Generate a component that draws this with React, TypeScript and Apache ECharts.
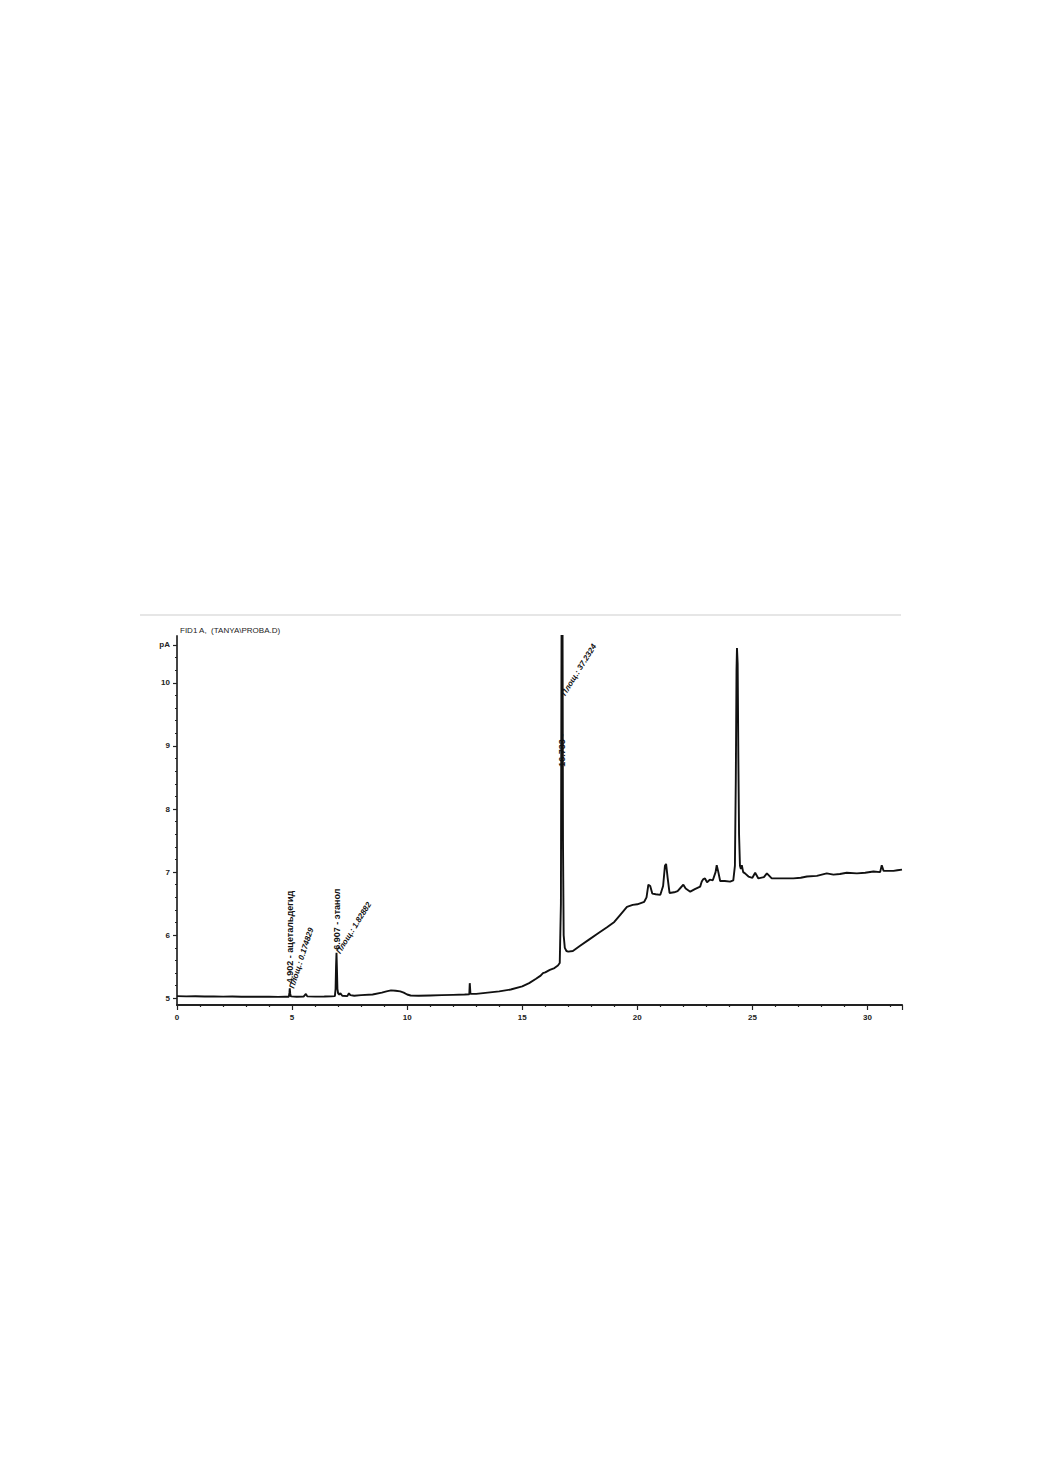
import React, { useEffect, useRef } from "react";
import * as echarts from "echarts";

// retention time, min
const times = [
  0, 0.4, 0.8, 1.2, 1.6, 2.0, 2.4, 2.8, 3.2, 3.6, 4.0, 4.4, 4.7, 4.86, 4.885, 4.9, 4.92, 4.95,
  5.2, 5.5, 5.6, 5.66, 6.0, 6.4, 6.7, 6.86, 6.89, 6.91, 6.93, 6.95, 6.97, 7.0, 7.05, 7.1, 7.18,
  7.4, 7.47, 7.53, 7.7, 8.0, 8.5, 8.9, 9.1, 9.3, 9.5, 9.7, 9.85, 10.0, 10.15, 10.5, 11.0, 11.5,
  12.0, 12.5, 12.7, 12.72, 12.75, 13.0, 13.5, 14.0, 14.5, 15.0, 15.3, 15.6, 15.8, 15.9, 16.0,
  16.2, 16.4, 16.55, 16.63, 16.68, 16.71, 16.75, 16.77, 16.8, 16.85, 16.92, 17.0, 17.2, 17.5,
  17.9, 18.3, 18.7, 19.0, 19.25, 19.55, 19.8, 20.0, 20.3, 20.4, 20.48, 20.56, 20.65, 20.8, 21.0,
  21.12, 21.2, 21.25, 21.32, 21.4, 21.6, 21.75, 21.9, 22.0, 22.1, 22.3, 22.5, 22.73, 22.8, 22.87,
  22.94, 23.03, 23.15, 23.28, 23.4, 23.45, 23.52, 23.6, 23.8, 24.03, 24.17, 24.24, 24.28, 24.31,
  24.33, 24.36, 24.39, 24.42, 24.46, 24.5, 24.54, 24.6, 24.68, 24.83, 25.0, 25.12, 25.26, 25.5,
  25.63, 25.84, 26.2, 26.5, 26.78, 27.1, 27.37, 27.8, 28.23, 28.52, 28.8, 29.1, 29.54, 29.9,
  30.26, 30.55, 30.62, 30.7, 30.9, 31.13, 31.3, 31.5,
];

// detector signal, pA
const signal = [
  5.035, 5.03, 5.033, 5.028, 5.031, 5.027, 5.029, 5.025, 5.027, 5.024, 5.026, 5.023, 5.025, 5.025,
  5.09, 5.16, 5.07, 5.03, 5.025, 5.028, 5.07, 5.03, 5.027, 5.028, 5.03, 5.035, 5.15, 5.5, 5.72,
  5.45, 5.15, 5.08, 5.06, 5.08, 5.04, 5.035, 5.08, 5.05, 5.04, 5.05, 5.06, 5.09, 5.11, 5.125,
  5.12, 5.11, 5.09, 5.06, 5.045, 5.04, 5.045, 5.05, 5.055, 5.06, 5.065, 5.24, 5.07, 5.07, 5.09,
  5.11, 5.14, 5.19, 5.24, 5.31, 5.36, 5.4, 5.41, 5.45, 5.48, 5.52, 5.56, 6.5, 11.2, 11.2, 7.5,
  6.0, 5.8, 5.75, 5.74, 5.75, 5.83, 5.93, 6.03, 6.13, 6.21, 6.32, 6.45, 6.48, 6.49, 6.53, 6.6,
  6.8, 6.78, 6.66, 6.65, 6.64, 6.78, 7.1, 7.13, 6.9, 6.67, 6.68, 6.7, 6.76, 6.8, 6.74, 6.69,
  6.73, 6.77, 6.85, 6.89, 6.9, 6.84, 6.88, 6.87, 7.0, 7.11, 7.0, 6.86, 6.86, 6.85, 6.87, 7.1,
  8.5, 10.2, 10.55, 10.3, 8.8, 7.6, 7.1, 7.05, 7.11, 7.0, 6.98, 6.93, 6.91, 6.99, 6.9, 6.92,
  6.98, 6.9, 6.9, 6.9, 6.9, 6.91, 6.93, 6.94, 6.98, 6.96, 6.97, 6.99, 6.98, 6.99, 7.01, 7.0,
  7.11, 7.02, 7.02, 7.02, 7.03, 7.04,
];

const yMajorTicks = [5, 6, 7, 8, 9, 10];
const yMajorLabels = ["5", "6", "7", "8", "9", "10"];
const yUnitValue = 10.6;
const yUnitLabel = "pA";
const yMinorStep = 0.2;
const xTickStep = 5;

const chartTitle = "FID1 A,  (TANYA\\PROBA.D)";

// peak annotations
const peakNames = ["4.902 - ацетальдегид", "6.907 - этанол", "16.733 -"];
const peakNameAnchorT = [4.9, 6.93, 16.73];
const peakNameAnchorV = [5.24, 5.77, 8.67];
const peakAreas = ["Площ.: 0.174829", "Площ.: 1.82882", "Площ.: 37.2324"];
const peakAreaAnchorT = [4.98, 7.0, 16.78];
const peakAreaAnchorV = [5.16, 5.72, 9.81];
const peakAreaAngleDeg = [72, 58, 58];

const Y_MIN = 4.894;
const Y_MAX = 10.742;
const X_MIN = 0;
const X_MAX = 31.5;

const FONT = "'Liberation Sans', Arial, sans-serif";

export default function App() {
  const ref = useRef<HTMLDivElement>(null);

  useEffect(() => {
    if (!ref.current) return;
    const chart = echarts.init(ref.current, null, { renderer: "svg" });

    const minorTicks: number[] = [];
    for (let v = yMajorTicks[0] + yMinorStep; v <= yUnitValue + 1e-6; v += yMinorStep) {
      const r = Math.round(v * 10) / 10;
      if (Math.abs(r - Math.round(r)) > 1e-6) minorTicks.push(r);
    }
    const labelValues = [...yMajorTicks, yUnitValue];
    const labelTexts = [...yMajorLabels, yUnitLabel];

    const option: any = {
      animation: false,
      backgroundColor: "#ffffff",
      grid: {
        left: 177,
        right: 138,
        top: 636,
        bottom: 466,
        outerBoundsMode: "none",
      },
      xAxis: {
        type: "value",
        min: X_MIN,
        max: X_MAX,
        interval: xTickStep,
        axisLine: { show: true, onZero: false, lineStyle: { color: "#222", width: 2.2 } },
        axisTick: { show: true, length: 5, lineStyle: { color: "#222", width: 1.2 } },
        minorTick: { show: true, splitNumber: 5, length: 2, lineStyle: { color: "#222", width: 1.2 } },
        axisLabel: {
          show: true,
          margin: 8,
          fontSize: 8,
          fontWeight: "bold",
          fontFamily: FONT,
          color: "#222",
          showMaxLabel: false,
        },
        splitLine: { show: false },
      },
      yAxis: [
        {
          type: "value",
          min: Y_MIN,
          max: Y_MAX,
          position: "left",
          axisLine: { show: true, onZero: false, lineStyle: { color: "#444", width: 2 } },
          axisTick: {
            show: true,
            length: 4,
            customValues: labelValues,
            lineStyle: { color: "#222", width: 1.2 },
          },
          axisLabel: {
            show: true,
            margin: 7,
            fontSize: 8,
            fontWeight: "bold",
            fontFamily: FONT,
            color: "#222",
            customValues: labelValues,
            formatter: (val: number) => {
              const i = labelValues.findIndex((x) => Math.abs(x - val) < 1e-6);
              return i >= 0 ? labelTexts[i] : "";
            },
          },
          splitLine: { show: false },
        },
        {
          type: "value",
          min: Y_MIN,
          max: Y_MAX,
          position: "left",
          axisLine: { show: false },
          axisTick: {
            show: true,
            length: 2,
            customValues: minorTicks,
            lineStyle: { color: "#222", width: 1.2 },
          },
          axisLabel: { show: false },
          splitLine: { show: false },
        },
      ],
      series: [
        {
          type: "line",
          data: times.map((t, i) => [t, signal[i]]),
          showSymbol: false,
          symbol: "none",
          clip: true,
          lineStyle: { color: "#111", width: 1.9 },
          xAxisIndex: 0,
          yAxisIndex: 0,
        },
      ],
    };

    chart.setOption(option);

    const toPx = (t: number, v: number) =>
      chart.convertToPixel({ xAxisIndex: 0, yAxisIndex: 0 }, [t, v]) as number[];

    const graphics: any[] = [
      {
        type: "line",
        shape: { x1: 140, y1: 615, x2: 901, y2: 615 },
        style: { stroke: "#e6e6e6", lineWidth: 2 },
        silent: true,
      },
      {
        type: "text",
        x: 180,
        y: 630,
        style: {
          text: chartTitle,
          fontSize: 8,
          fontFamily: FONT,
          fill: "#222",
          textAlign: "left",
          textVerticalAlign: "middle",
        },
      },
    ];

    peakNames.forEach((name, i) => {
      const p = toPx(peakNameAnchorT[i], peakNameAnchorV[i]);
      graphics.push({
        type: "text",
        x: p[0],
        y: p[1],
        rotation: Math.PI / 2,
        style: {
          text: name,
          fontSize: 9,
          fontWeight: "bold",
          fontFamily: FONT,
          fill: "#111",
          textAlign: "left",
          textVerticalAlign: "middle",
        },
      });
    });

    peakAreas.forEach((txt, i) => {
      const p = toPx(peakAreaAnchorT[i], peakAreaAnchorV[i]);
      graphics.push({
        type: "text",
        x: p[0],
        y: p[1],
        rotation: (peakAreaAngleDeg[i] * Math.PI) / 180,
        style: {
          text: txt,
          fontSize: 8,
          fontStyle: "italic",
          fontWeight: "bold",
          fontFamily: FONT,
          fill: "#111",
          textAlign: "left",
          textVerticalAlign: "middle",
        },
      });
    });

    chart.setOption({ graphic: { elements: graphics } });

    return () => {
      chart.dispose();
    };
  }, []);

  return (
    <div
      ref={ref}
      style={{ position: "absolute", left: 0, top: 0, width: 1040, height: 1471, background: "#fff" }}
    />
  );
}
